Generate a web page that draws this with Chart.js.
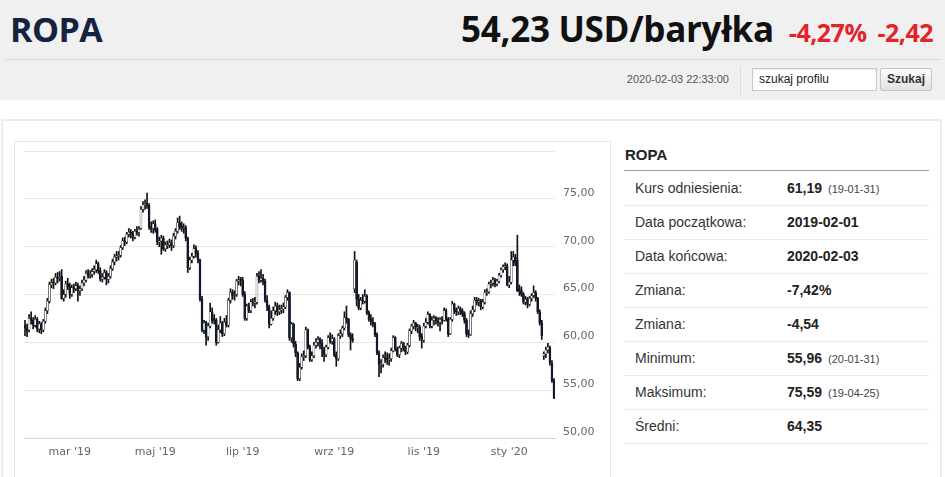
<!DOCTYPE html>
<html lang="pl">
<head>
<meta charset="utf-8">
<title>ROPA</title>
<script src="https://cdn.jsdelivr.net/npm/chart.js@4.4.1/dist/chart.umd.min.js"></script>
<style>
  html, body { margin: 0; padding: 0; }
  body { width: 945px; height: 477px; overflow: hidden; position: relative; background: #fff; font-family: "Liberation Sans", Arial, sans-serif; }
  .top { position: absolute; left: 0; top: 0; width: 945px; height: 100px; background: #f0f0f0; }
  .name { position: absolute; left: 10px; top: 12px; font: bold 34px/34px "Open Sans", sans-serif; color: #14233f; letter-spacing: -0.5px; }
  .quote { position: absolute; right: 12px; top: 12px; display: flex; align-items: baseline; line-height: 34px; font-family: "Open Sans", sans-serif; font-weight: bold; }
  .quote .price { font-size: 35px; color: #111; letter-spacing: -0.3px; }
  .quote .chg { font-size: 25px; color: #e3232b; margin-left: 15px; letter-spacing: -0.5px; }
  .quote .chg + .chg { margin-left: 11px; }
  .sep { position: absolute; left: 5px; top: 59px; width: 935px; height: 1px; background: #d6d6d6; }
  .stamp { position: absolute; right: 216px; top: 72px; font-size: 11px; line-height: 14px; color: #555; }
  .vbar { position: absolute; left: 740px; top: 66px; width: 1px; height: 30px; background: #dcdcdc; }
  .search { position: absolute; left: 752px; top: 68px; width: 117px; height: 21px; border: 1px solid #c9c9c9; background: #fff; font-size: 12px; line-height: 21px; padding-left: 6px; color: #222; box-shadow: inset 0 1px 2px rgba(0,0,0,0.08); }
  .btn { position: absolute; left: 880px; top: 68px; width: 50px; height: 21px; border: 1px solid #c6c6c6; border-radius: 2px; background: linear-gradient(#fbfbfb, #e2e2e2); font-size: 12px; font-weight: bold; line-height: 21px; text-align: center; color: #333; }
  .panel { position: absolute; left: 1px; top: 119px; width: 937px; height: 400px; border: 2px solid #ececec; }
  .chartbox { position: absolute; left: 14px; top: 141px; width: 595px; height: 400px; border: 1px solid #e6e6e6; }
  #chart { position: absolute; left: 15px; top: 142px; }
  .side-title { position: absolute; left: 625px; top: 147px; font-size: 15px; line-height: 15px; font-weight: bold; color: #222; }
  .side-line { position: absolute; left: 624px; top: 170px; width: 305px; height: 1px; background: #9a9a9a; }
  .row { position: absolute; left: 624px; width: 305px; height: 34px; border-bottom: 1px solid #ececec; font-size: 14px; line-height: 34px; color: #333; }
  .row .k { position: absolute; left: 11px; }
  .row .v { position: absolute; left: 163px; font-weight: bold; color: #222; }
  .row .d { font-size: 11px; font-weight: normal; color: #444; margin-left: 6px; }
</style>
</head>
<body>
<div class="top"></div>
<div class="name">ROPA</div>
<div class="quote"><span class="price">54,23 USD/baryłka</span><span class="chg">-4,27%</span><span class="chg">-2,42</span></div>
<div class="sep"></div>
<div class="stamp">2020-02-03 22:33:00</div>
<div class="vbar"></div>
<div class="search">szukaj profilu</div>
<div class="btn">Szukaj</div>
<div class="panel"></div>
<div class="chartbox"></div>
<canvas id="chart" width="594" height="335"></canvas>
<div class="side-title">ROPA</div>
<div class="side-line"></div>
<div id="rows"></div>
<script>
// trading days: weekdays from firstDay to lastDay, minus exchange holidays
const firstDay = '2019-01-30';
const lastDay = '2020-02-03';
const holidays = ['2019-04-19', '2019-12-25', '2020-01-01'];
const monthTicks = {
  '2019-03': "mar '19", '2019-05': "maj '19", '2019-07': "lip '19",
  '2019-09': "wrz '19", '2019-11': "lis '19", '2020-01': "sty '20",
};
const yTicks = [50, 55, 60, 65, 70, 75, 80];

// daily OHLC, one line per month (Jan'19 .. Feb'20)
const opens = [
  61.8, 61.5,
  61.3, 62.5, 62.3, 61.8, 62.4, 61.4, 61.9, 61.3, 62.2, 63.3, 64.3, 66.0, 66.3, 66.2, 66.8, 66.7, 66.9, 64.6, 65.0, 66.1,
  65.8, 65.0, 65.7, 65.6, 65.9, 65.4, 65.6, 66.2, 66.5, 67.2, 67.0, 67.1, 67.4, 67.6, 68.2, 67.5, 66.6, 66.8, 67.3, 66.6, 66.9,
  67.7, 68.4, 68.9, 69.0, 69.1, 69.9, 70.6, 70.5, 71.3, 71.5, 71.3, 71.0, 71.6, 71.5, 71.9, 73.9, 74.4, 74.5, 74.3, 72.1, 71.9,
  72.4, 71.8, 70.5, 70.6, 70.9, 69.8, 70.1, 70.2, 70.4, 70.1, 71.1, 71.6, 72.5, 72.1, 71.9, 72.0, 70.9, 67.8, 68.6, 69.0, 69.8, 69.3, 68.6,
  64.5, 61.3, 62.0, 60.6, 61.7, 63.2, 62.4, 62.3, 60.0, 61.3, 62.0, 60.9, 62.1, 61.8, 64.4, 65.2, 64.9, 65.0, 66.4, 66.6,
  66.5, 65.0, 62.5, 63.8, 63.3, 64.2, 64.1, 64.2, 66.9, 66.5, 66.7, 66.4, 64.4, 63.7, 61.9, 62.5, 63.3, 63.8, 63.2, 63.4, 63.5, 63.7, 64.7,
  65.2, 60.5, 61.9, 59.8, 58.9, 56.2, 57.4, 58.5, 58.6, 61.3, 59.5, 58.2, 58.6, 59.7, 60.0, 60.3, 59.9, 59.3, 58.7, 59.5, 60.5, 60.1,
  60.4, 58.7, 58.3, 60.7, 60.9, 61.5, 62.6, 62.4, 60.8, 60.4, 65.6, 68.4, 64.5, 63.6, 64.4, 64.3, 64.8, 63.1, 62.4, 62.1, 61.9,
  60.8, 58.9, 57.6, 57.7, 58.4, 58.3, 58.2, 58.3, 59.1, 60.5, 59.3, 58.7, 59.4, 59.9, 59.4, 59.0, 59.7, 61.2, 61.7, 62.0, 61.5, 61.6, 60.6,
  60.2, 61.7, 62.1, 62.9, 61.7, 62.3, 62.5, 62.2, 62.1, 62.4, 62.3, 63.3, 62.4, 60.9, 62.4, 64.0, 63.4, 63.2, 63.5, 63.3, 63.0,
  62.3, 60.9, 60.8, 63.0, 63.4, 64.4, 64.2, 64.3, 63.7, 64.2, 65.2, 65.3, 66.1, 66.2, 66.5, 66.1, 66.4, 67.0, 67.6, 67.9, 68.0,
  66.0, 66.3, 68.6, 68.9, 68.6, 65.6, 65.4, 65.0, 64.2, 64.5, 64.0, 64.6, 64.9, 65.2, 64.6, 63.2, 62.0, 58.6, 58.8, 59.2, 59.4, 57.8,
  56.0,
];
const highs = [
  62.3, 61.9,
  62.9, 63.2, 62.6, 62.8, 62.6, 62.2, 62.1, 62.4, 63.6, 64.6, 66.3, 66.6, 66.7, 67.2, 67.3, 67.4, 67.6, 65.5, 66.4, 66.7,
  66.2, 66.0, 66.1, 66.3, 66.2, 65.9, 66.5, 66.9, 67.5, 67.6, 67.5, 67.7, 68.0, 68.6, 68.4, 67.8, 67.2, 67.6, 67.5, 67.2, 68.0,
  68.7, 69.2, 69.5, 69.5, 70.1, 70.9, 71.0, 71.5, 71.9, 71.8, 71.6, 71.8, 72.1, 72.1, 74.2, 74.7, 74.9, 75.59, 74.5, 72.6, 72.7,
  72.8, 72.0, 71.0, 71.2, 71.1, 70.5, 70.6, 70.8, 70.7, 71.4, 71.9, 73.0, 73.2, 72.6, 72.4, 72.2, 71.0, 68.9, 69.3, 70.2, 70.1, 69.6, 68.7,
  64.8, 62.3, 62.2, 62.0, 64.1, 63.6, 62.9, 62.5, 61.8, 62.7, 62.2, 62.5, 62.8, 64.6, 65.6, 65.5, 65.4, 66.6, 66.9, 66.8,
  66.8, 65.3, 64.0, 64.1, 64.5, 64.6, 64.7, 67.2, 67.4, 67.6, 67.1, 66.6, 64.9, 63.9, 63.3, 63.7, 64.2, 64.1, 63.9, 63.9, 64.1, 64.9, 65.5,
  65.3, 62.1, 62.0, 60.1, 59.0, 57.8, 58.8, 59.1, 61.6, 61.4, 59.7, 59.0, 60.0, 60.4, 60.6, 60.5, 60.3, 59.5, 59.7, 60.7, 61.0, 60.8,
  60.5, 59.0, 60.9, 61.3, 61.7, 63.2, 63.8, 62.5, 61.0, 60.9, 69.5, 68.6, 65.0, 64.7, 65.0, 65.5, 65.0, 63.3, 62.9, 62.6, 62.1,
  61.0, 59.1, 58.2, 58.7, 59.0, 58.9, 58.8, 59.4, 60.7, 60.6, 59.5, 59.6, 60.1, 60.0, 59.6, 59.9, 61.4, 61.9, 62.3, 62.1, 61.9, 61.8, 60.9,
  62.0, 62.5, 63.2, 63.0, 62.7, 62.8, 62.7, 62.6, 62.6, 62.7, 63.6, 63.5, 62.6, 62.6, 64.3, 64.1, 63.6, 63.8, 63.7, 63.5, 63.2,
  62.5, 61.3, 63.3, 63.8, 64.7, 64.7, 64.6, 64.5, 64.5, 65.5, 65.6, 66.3, 66.5, 66.8, 66.7, 66.6, 67.2, 67.8, 68.1, 68.3, 68.2,
  66.9, 69.5, 69.5, 69.2, 71.2, 66.0, 65.8, 65.2, 64.8, 64.7, 64.8, 65.1, 65.9, 65.4, 64.7, 63.4, 62.3, 59.0, 59.5, 59.9, 59.6, 58.1,
  56.2,
];
const lows = [
  60.7, 60.6,
  61.1, 61.9, 61.4, 61.6, 61.1, 61.0, 60.9, 61.1, 62.0, 63.0, 64.1, 65.7, 65.6, 66.0, 66.2, 66.4, 64.5, 64.3, 64.7, 65.5,
  64.6, 64.8, 65.2, 65.4, 64.3, 64.9, 65.4, 65.9, 66.3, 66.7, 66.7, 66.8, 67.1, 67.3, 67.2, 66.4, 66.3, 66.6, 66.0, 66.2, 66.7,
  67.5, 68.1, 68.5, 68.6, 68.9, 69.7, 70.1, 70.3, 71.0, 70.9, 70.6, 70.8, 71.2, 71.1, 71.8, 73.6, 73.9, 74.0, 71.8, 71.5, 71.4,
  71.5, 70.2, 70.0, 69.2, 69.6, 69.5, 69.8, 69.9, 69.6, 69.9, 70.8, 71.4, 71.8, 71.6, 71.4, 70.6, 67.3, 67.6, 68.3, 68.8, 68.9, 68.3, 64.3,
  61.1, 60.9, 59.7, 60.2, 61.5, 62.0, 61.9, 59.7, 59.9, 61.0, 60.6, 60.7, 61.6, 61.6, 64.1, 64.5, 64.4, 64.8, 66.0, 65.9,
  64.8, 62.3, 62.3, 63.1, 63.1, 63.8, 63.6, 64.0, 66.2, 66.3, 66.0, 64.2, 63.3, 61.5, 61.8, 62.3, 62.9, 62.8, 62.9, 63.0, 63.1, 63.5, 64.4,
  60.2, 60.0, 59.5, 58.5, 56.0, 56.0, 57.2, 58.1, 58.4, 59.3, 58.0, 58.0, 58.4, 59.4, 59.6, 59.3, 58.5, 58.0, 58.5, 59.3, 59.9, 59.8,
  58.5, 57.5, 58.1, 60.4, 60.6, 61.3, 62.0, 60.6, 59.2, 60.0, 65.2, 63.8, 63.4, 63.4, 64.0, 64.1, 62.9, 62.2, 61.8, 61.6, 60.6,
  58.7, 56.4, 56.8, 57.4, 57.9, 57.7, 57.6, 58.0, 59.0, 59.1, 58.5, 58.4, 59.0, 59.1, 58.7, 58.8, 59.5, 60.9, 61.4, 61.2, 61.0, 60.2, 59.4,
  60.0, 61.5, 61.9, 61.5, 61.5, 61.8, 61.9, 61.7, 61.2, 61.9, 62.2, 62.2, 60.6, 60.8, 62.2, 63.0, 62.8, 62.9, 62.9, 62.7, 62.0,
  60.6, 60.5, 60.7, 62.7, 63.2, 63.9, 63.8, 63.4, 63.5, 64.0, 64.9, 65.1, 65.7, 65.9, 65.8, 65.9, 66.2, 66.8, 67.3, 67.6, 65.9,
  65.7, 66.1, 68.0, 68.0, 65.3, 64.9, 64.8, 64.0, 63.9, 63.6, 63.8, 64.3, 64.7, 64.3, 63.0, 61.8, 60.3, 58.2, 58.4, 58.9, 57.6, 55.8,
  54.1,
];
const closes = [
  61.5, 61.2,
  62.5, 62.3, 61.8, 62.4, 61.4, 61.9, 61.3, 62.2, 63.3, 64.3, 66.0, 66.2, 66.2, 66.8, 66.7, 66.8, 64.6, 65.0, 66.1, 65.8,
  65.0, 65.7, 65.6, 65.9, 65.4, 65.6, 66.2, 66.5, 67.2, 67.0, 67.1, 67.4, 67.6, 68.2, 67.5, 66.6, 66.8, 67.3, 66.6, 66.9, 67.7,
  68.4, 68.9, 69.0, 69.1, 69.9, 70.6, 70.5, 71.3, 71.5, 71.3, 71.0, 71.6, 71.5, 71.8, 73.9, 74.4, 74.5, 74.3, 72.1, 71.9, 72.4,
  71.8, 70.5, 70.6, 70.9, 69.8, 70.2, 70.2, 70.4, 70.1, 71.1, 71.6, 72.5, 72.1, 71.9, 72.0, 70.9, 67.8, 68.6, 69.0, 69.8, 69.3, 68.6, 64.5,
  61.3, 62.0, 60.6, 61.7, 63.2, 62.3, 62.3, 60.0, 61.3, 62.0, 60.9, 62.1, 61.8, 64.4, 65.2, 64.9, 65.0, 66.4, 66.5, 66.5,
  65.0, 62.5, 63.8, 63.3, 64.2, 64.1, 64.2, 66.9, 66.5, 66.7, 66.4, 64.4, 63.7, 61.9, 62.5, 63.3, 63.8, 63.2, 63.4, 63.5, 63.7, 64.7, 65.2,
  60.5, 61.9, 59.8, 58.9, 56.2, 57.4, 58.5, 58.6, 61.3, 59.5, 58.2, 58.6, 59.7, 60.0, 60.3, 59.9, 59.3, 58.7, 59.5, 60.5, 60.1, 60.4,
  58.7, 58.3, 60.7, 60.9, 61.5, 62.6, 62.4, 60.8, 60.4, 60.2, 68.6, 64.5, 63.6, 64.4, 64.3, 64.8, 63.1, 62.4, 62.1, 61.9, 60.8,
  58.9, 57.7, 57.7, 58.4, 58.3, 58.2, 58.3, 59.1, 60.5, 59.3, 58.7, 59.4, 59.9, 59.4, 59.0, 59.7, 61.2, 61.7, 62.0, 61.6, 61.6, 60.6, 60.2,
  61.7, 62.1, 62.9, 61.7, 62.3, 62.5, 62.2, 62.1, 62.4, 62.3, 63.3, 62.4, 60.9, 62.4, 64.0, 63.4, 63.2, 63.5, 63.3, 63.0, 62.3,
  60.9, 60.8, 63.0, 63.4, 64.4, 64.2, 64.3, 63.7, 64.2, 65.2, 65.3, 66.1, 66.2, 66.5, 66.1, 66.4, 67.0, 67.6, 67.9, 68.0, 66.0,
  66.3, 68.6, 68.9, 68.3, 65.4, 65.4, 65.0, 64.2, 64.5, 64.0, 64.6, 64.9, 65.2, 64.6, 63.2, 62.0, 60.7, 58.8, 59.2, 59.5, 57.9, 56.0,
  54.2,
];

// side table
const statLabels = ['Kurs odniesienia:', 'Data początkowa:', 'Data końcowa:', 'Zmiana:', 'Zmiana:', 'Minimum:', 'Maksimum:', 'Średni:'];
const statValues = ['61,19', '2019-02-01', '2020-02-03', '-7,42%', '-4,54', '55,96', '75,59', '64,35'];
const statDates = ['19-01-31', '', '', '', '', '20-01-31', '19-04-25', ''];

const rowsEl = document.getElementById('rows');
statLabels.forEach((k, i) => {
  const row = document.createElement('div');
  row.className = 'row';
  row.style.top = (171 + i * 34) + 'px';
  row.innerHTML = '<span class="k">' + k + '</span><span class="v">' + statValues[i] +
    (statDates[i] ? '<span class="d">(' + statDates[i] + ')</span>' : '') + '</span>';
  rowsEl.appendChild(row);
});

const dates = [];
for (let d = new Date(firstDay + 'T12:00:00Z'); d <= new Date(lastDay + 'T12:00:00Z'); d.setUTCDate(d.getUTCDate() + 1)) {
  const iso = d.toISOString().slice(0, 10);
  const wd = d.getUTCDay();
  if (wd === 0 || wd === 6 || holidays.includes(iso)) continue;
  dates.push(iso);
}

// label only the first trading day of the ticked months
const tickText = dates.map((d, i) => {
  const m = d.slice(0, 7);
  if (!monthTicks[m]) return null;
  if (i > 0 && dates[i - 1].slice(0, 7) === m) return null;
  return monthTicks[m];
});

const wicks = dates.map((d, i) => [lows[i], highs[i]]);
const bodies = dates.map((d, i) => [Math.min(opens[i], closes[i]), Math.max(opens[i], closes[i])]);
const bodyColors = dates.map((d, i) => (closes[i] >= opens[i] ? '#ffffff' : '#0e1c36'));

const axisFont = { family: '"DejaVu Sans", Verdana, sans-serif', size: 11 };

new Chart(document.getElementById('chart').getContext('2d'), {
  type: 'bar',
  data: {
    labels: dates,
    datasets: [
      {
        label: 'wick',
        data: wicks,
        backgroundColor: '#111111',
        barThickness: 1,
        grouped: false,
        order: 2,
      },
      {
        label: 'ROPA',
        data: bodies,
        backgroundColor: bodyColors,
        borderColor: '#111111',
        borderWidth: 0.5,
        borderSkipped: false,
        barThickness: 2,
        minBarLength: 1,
        grouped: false,
        order: 1,
      },
    ],
  },
  options: {
    responsive: false,
    animation: false,
    layout: { padding: { left: 9, top: 9, right: 0, bottom: 0 } },
    plugins: { legend: { display: false }, tooltip: { enabled: false } },
    scales: {
      x: {
        ticks: {
          autoSkip: false,
          maxRotation: 0,
          padding: 0,
          color: '#666666',
          font: axisFont,
          callback: (v, i) => tickText[i],
        },
        grid: {
          offset: false,
          drawOnChartArea: false,
          tickLength: 8,
          color: (ctx) => (tickText[ctx.index] ? '#ccd6eb' : 'rgba(0,0,0,0)'),
        },
        border: { color: '#ccd6eb' },
        afterFit: (s) => { s.height = 39; s.paddingLeft = 0; s.paddingRight = 0; },
      },
      y: {
        position: 'right',
        min: yTicks[0],
        max: yTicks[yTicks.length - 1],
        afterBuildTicks: (s) => { s.ticks = yTicks.map((v) => ({ value: v })); },
        ticks: {
          padding: 8,
          labelOffset: -6,
          color: '#666666',
          font: axisFont,
          callback: (v) => (v === 80 ? '' : v.toFixed(2).replace('.', ',')),
        },
        grid: { color: '#e6e6e6', drawTicks: false },
        border: { display: false },
        afterFit: (s) => { s.width = 54; s.paddingTop = 0; s.paddingBottom = 0; },
      },
    },
  },
});
</script>
</body>
</html>
